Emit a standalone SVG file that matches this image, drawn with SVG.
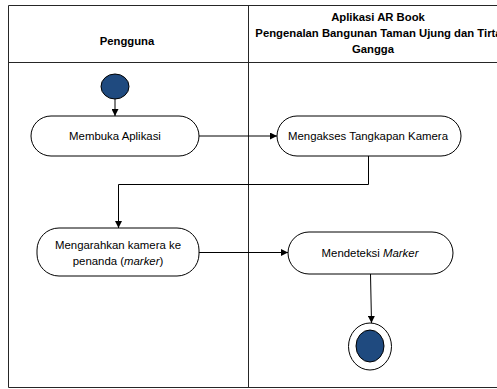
<svg xmlns="http://www.w3.org/2000/svg" width="497" height="389" viewBox="0 0 497 389">
  <style>
    .lane { fill: none; stroke: #262626; stroke-width: 1; }
    .head { font-family: "Liberation Sans", Arial, sans-serif; font-size: 11.3px; font-weight: bold; fill: #000; text-anchor: middle; }
    .act { fill: #fff; stroke: #000; stroke-width: 1; }
    .lbl { font-family: "Liberation Sans", Arial, sans-serif; font-size: 11.4px; fill: #000; text-anchor: middle; }
    .flow { fill: none; stroke: #000; stroke-width: 1; marker-end: url(#arrow); }
    .dot { fill: #1F4A7F; stroke: #000; stroke-width: 1; }
  </style>
  <defs>
    <marker id="arrow" viewBox="0 0 10 10" refX="10" refY="5" markerWidth="7" markerHeight="7" markerUnits="userSpaceOnUse" orient="auto">
      <path d="M0,0 L10,5 L0,10 z" fill="#000"/>
    </marker>
  </defs>
  <rect width="497" height="389" fill="#fff"/>

  <!-- swimlane frame -->
  <g id="lanes">
    <path class="lane" d="M8.5,5.5 H510 M8.5,5.5 V387.5 H510 M8.5,62.5 H510 M248.5,5.5 V387.5"/>
    <text class="head" x="127" y="45">Pengguna</text>
    <text class="head" x="378" y="21">Aplikasi AR Book</text>
    <text class="head" x="378.5" y="37">Pengenalan Bangunan Taman Ujung dan Tirta</text>
    <text class="head" x="373" y="53">Gangga</text>
  </g>

  <!-- flows -->
  <g id="connectors">
    <path class="flow" d="M115,99 V116"/>
    <path class="flow" d="M199,136 H277"/>
    <path class="flow" d="M368.5,156 V184.5 H118.5 V228"/>
    <path class="flow" d="M199,252.5 H288"/>
    <path class="flow" d="M370.5,274 L371.5,323"/>
  </g>

  <g id="start">
    <ellipse class="dot" cx="115" cy="86.5" rx="14" ry="12.5"/>
  </g>

  <g id="membuka-aplikasi">
    <rect class="act" x="31" y="116" width="168" height="40" rx="20" ry="20"/>
    <text class="lbl" x="115" y="140">Membuka Aplikasi</text>
  </g>

  <g id="mengakses-kamera">
    <rect class="act" x="277" y="116" width="184" height="40" rx="20" ry="20"/>
    <text class="lbl" x="368" y="140">Mengakses Tangkapan Kamera</text>
  </g>

  <g id="mengarahkan-kamera">
    <rect class="act" x="37" y="228" width="162" height="48" rx="22" ry="22"/>
    <text class="lbl" x="118" y="249">Mengarahkan kamera ke</text>
    <text class="lbl" x="118" y="265">penanda (<tspan font-style="italic">marker</tspan>)</text>
  </g>

  <g id="mendeteksi-marker">
    <rect class="act" x="288" y="232" width="165" height="42" rx="21" ry="21"/>
    <text class="lbl" x="370" y="257">Mendeteksi <tspan font-style="italic">Marker</tspan></text>
  </g>

  <g id="end">
    <ellipse cx="370" cy="346.5" rx="21.5" ry="23.5" fill="#fff" stroke="#000" stroke-width="1"/>
    <ellipse class="dot" cx="370" cy="346" rx="14" ry="16"/>
  </g>
</svg>
